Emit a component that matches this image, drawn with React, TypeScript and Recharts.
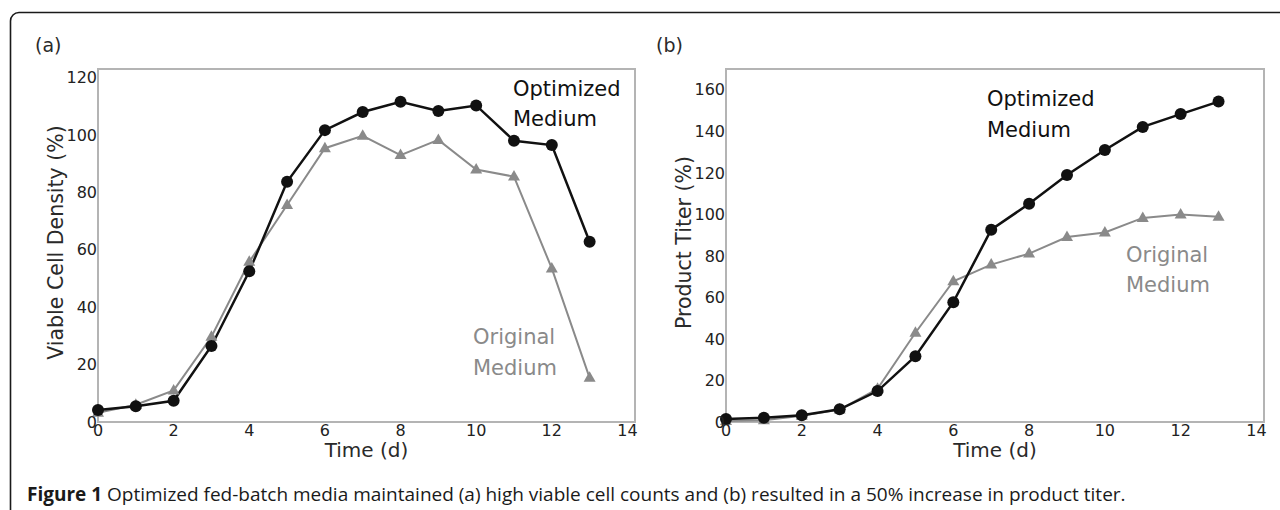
import { LineChart, Line, XAxis, YAxis, ReferenceArea, Label } from 'recharts';

// days 0..13
const days = [0, 1, 2, 3, 4, 5, 6, 7, 8, 9, 10, 11, 12, 13];

// panel (a) viable cell density (%)
const vcdOptimized = [4.2, 5.5, 7.4, 26.5, 52.5, 83.7, 101.7, 108, 111.6, 108.4, 110.3, 98, 96.5, 62.8];
const vcdOriginal = [3.2, 6, 11, 29.7, 55.8, 75.6, 95.4, 99.7, 93, 98.3, 88, 85.5, 53.5, 15.4];

// panel (b) product titer (%)
const titerOptimized = [1.5, 2.1, 3.2, 6.1, 14.9, 31.7, 57.7, 92.6, 105.1, 119, 131, 142.1, 148.3, 154.3];
const titerOriginal = [0.5, 0.8, 3, 6, 16, 43, 67.8, 75.8, 81.1, 89.1, 91.3, 98.3, 99.9, 98.8];

const xTicks = [0, 2, 4, 6, 8, 10, 12, 14];
const vcdTicks = [0, 20, 40, 60, 80, 100, 120];
const titerTicks = [0, 20, 40, 60, 80, 100, 120, 140, 160];

const FONT = '"DejaVu Sans", sans-serif';
const BLACK = '#111111';
const GREY = '#8a8a8a';
const FRAME = '#b4b4b4';

const tickStyle = { fontSize: 16, fill: '#222222', fontFamily: FONT };

const Triangle = (props: any) => {
  const { cx, cy } = props;
  if (cx == null || cy == null) return null;
  return (
    <polygon
      points={`${cx},${cy - 6.5} ${cx - 6},${cy + 4} ${cx + 6},${cy + 4}`}
      fill={GREY}
    />
  );
};

const YTitle = ({ viewBox, text }: any) => {
  const x = viewBox.x + 27.5;
  const y = viewBox.y + viewBox.height / 2 - 3;
  return (
    <text
      x={x}
      y={y}
      transform={`rotate(-90, ${x}, ${y})`}
      textAnchor="middle"
      dominantBaseline="central"
      fontFamily={FONT}
      fontSize={20.5}
      fill="#2a2a2a"
    >
      {text}
    </text>
  );
};

const XTitle = ({ viewBox }: any) => (
  <text
    x={viewBox.x + viewBox.width / 2}
    y={viewBox.y + 35}
    textAnchor="middle"
    fontFamily={FONT}
    fontSize={20}
    fill="#2a2a2a"
  >
    Time (d)
  </text>
);

interface PanelProps {
  left: number;
  marginLeft: number;
  marginRight: number;
  optimized: number[];
  original: number[];
  yMax: number;
  yTicks: number[];
  yTitle: string;
}

function Panel({ left, marginLeft, marginRight, optimized, original, yMax, yTicks, yTitle }: PanelProps) {
  const data = days.map((d, i) => ({ day: d, optimized: optimized[i], original: original[i] }));
  return (
    <div style={{ position: 'absolute', left, top: 0 }}>
      <LineChart
        width={640}
        height={472}
        data={data}
        margin={{ top: 69, right: marginRight, bottom: 20, left: marginLeft }}
      >
        <XAxis
          type="number"
          dataKey="day"
          domain={[0, 14.2]}
          ticks={xTicks}
          axisLine={false}
          tickLine={false}
          tickSize={0}
          tickMargin={3}
          height={30}
          tick={tickStyle}
        >
          <Label content={<XTitle />} />
        </XAxis>
        <YAxis
          type="number"
          domain={[0, yMax]}
          ticks={yTicks}
          axisLine={false}
          tickLine={false}
          tickSize={0}
          tickMargin={1}
          width={70}
          tick={tickStyle}
        >
          <Label content={<YTitle text={yTitle} />} />
        </YAxis>
        <ReferenceArea
          x1={0}
          x2={14.2}
          y1={0}
          y2={yMax}
          fill="none"
          stroke={FRAME}
          strokeWidth={2}
          fillOpacity={0}
        />
        <Line
          dataKey="original"
          stroke={GREY}
          strokeWidth={2}
          dot={<Triangle />}
          isAnimationActive={false}
        />
        <Line
          dataKey="optimized"
          stroke={BLACK}
          strokeWidth={2.5}
          dot={{ r: 6, fill: BLACK, stroke: BLACK, strokeWidth: 0 }}
          isAnimationActive={false}
        />
      </LineChart>
    </div>
  );
}

export default function App() {
  const ann = { fontFamily: FONT, fontSize: 21 };
  return (
    <div
      style={{
        position: 'absolute',
        left: 0,
        top: 0,
        width: 1280,
        height: 510,
        overflow: 'hidden',
        background: '#ffffff',
      }}
    >
      <Panel
        left={0}
        marginLeft={28}
        marginRight={5}
        optimized={vcdOptimized}
        original={vcdOriginal}
        yMax={123}
        yTicks={vcdTicks}
        yTitle="Viable Cell Density (%)"
      />
      <Panel
        left={640}
        marginLeft={16}
        marginRight={16}
        optimized={titerOptimized}
        original={titerOriginal}
        yMax={170}
        yTicks={titerTicks}
        yTitle="Product Titer (%)"
      />
      <svg
        width={1280}
        height={510}
        style={{ position: 'absolute', left: 0, top: 0, pointerEvents: 'none' }}
      >
        <path
          d="M 10.5 520 L 10.5 21 A 8.5 8.5 0 0 1 19 12.5 L 1290 12.5"
          fill="none"
          stroke="#1a1a1a"
          strokeWidth={1.6}
        />
        <text x={35} y={52} fontFamily={FONT} fontSize={19} fill="#2a2a2a">(a)</text>
        <text x={656} y={52} fontFamily={FONT} fontSize={19} fill="#2a2a2a">(b)</text>

        <text x={513} y={96} {...ann} fill={BLACK}>Optimized</text>
        <text x={513} y={126} {...ann} fill={BLACK}>Medium</text>
        <text x={473} y={344} {...ann} fill={GREY}>Original</text>
        <text x={473} y={375} {...ann} fill={GREY}>Medium</text>

        <text x={987} y={106} {...ann} fill={BLACK}>Optimized</text>
        <text x={987} y={137} {...ann} fill={BLACK}>Medium</text>
        <text x={1126} y={262} {...ann} fill={GREY}>Original</text>
        <text x={1126} y={292} {...ann} fill={GREY}>Medium</text>

        <text x={27} y={501} fontFamily='"Open Sans", sans-serif' fontSize={19} fill="#1a1a1a">
          <tspan fontWeight={700}>Figure 1</tspan>
          {' Optimized fed-batch media maintained (a) high viable cell counts and (b) resulted in a 50% increase in product titer.'}
        </text>
      </svg>
    </div>
  );
}
